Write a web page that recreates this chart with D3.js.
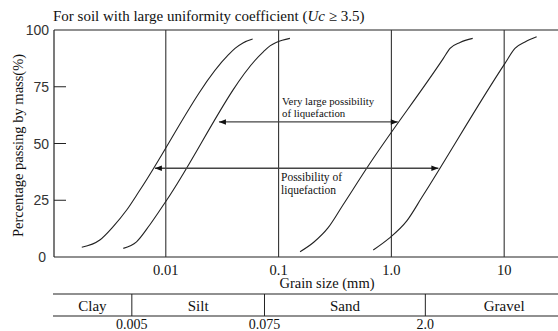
<!DOCTYPE html>
<html>
<head>
<meta charset="utf-8">
<script src="https://cdn.jsdelivr.net/npm/d3@7"></script>
<style>
  body { margin: 0; background: #fff; }
  svg { display: block; }
</style>
</head>
<body>
<div id="chart"></div>
<script>
// grain size (mm) vs percentage passing
const curveA = [[0.0018, 4.3], [0.0026, 7.5], [0.0034, 13.3], [0.0045, 20.7], [0.0059, 29.5],
  [0.0358, 89.0], [0.0411, 91.9], [0.0483, 94.3], [0.0589, 96.0]];
const curveB = [[0.0042, 3.8], [0.0055, 6.7], [0.0072, 14.1], [0.0102, 25.1],
  [0.0732, 90.4], [0.0839, 93.0], [0.0962, 94.6], [0.126, 96.3]];
const curveC = [[0.155, 2.3], [0.206, 6.6], [0.274, 12.8], [0.372, 22.9], [0.604, 39.1],
  [2.89, 87.5], [3.31, 91.9], [4.06, 94.5], [5.26, 96.3]];
const curveD = [[0.691, 3.1], [0.952, 8.2], [1.37, 15.9], [1.87, 26.4],
  [10.16, 85.3], [12.46, 91.9], [15.3, 94.7], [19.4, 97.0]];
const curves = [curveA, curveB, curveC, curveD];

const xTicks = [0.01, 0.1, 1, 10];
const xTickLabels = ['0.01', '0.1', '1.0', '10'];
const yTicks = [0, 25, 50, 75, 100];

// double arrows: [from size, to size, percent]
const arrowVeryLarge = [0.0296, 1.14, 59.5];
const arrowPossible = [0.0080, 2.61, 39.1];

const soilEdges = [0.001, 0.005, 0.075, 2.0, 50];
const soilNames = ['Clay', 'Silt', 'Sand', 'Gravel'];
const boundLabels = ['0.005', '0.075', '2.0'];

const width = 558, height = 331;
const serif = '"Liberation Serif", "DejaVu Serif", "Times New Roman", serif';

const svg = d3.select('#chart').append('svg')
  .attr('width', width)
  .attr('height', height)
  .attr('font-family', serif)
  .style('font-family', serif);

const x = d3.scaleLog().domain([0.001, 30]).range([53, 558]);
const y = d3.scaleLinear().domain([0, 100]).range([257, 30]);
const left = 54;

// arrow head
svg.append('defs').append('marker')
  .attr('id', 'head')
  .attr('viewBox', '0 -5 10 10')
  .attr('refX', 10)
  .attr('refY', 0)
  .attr('orient', 'auto-start-reverse')
  .attr('markerUnits', 'userSpaceOnUse')
  .attr('markerWidth', 10)
  .attr('markerHeight', 7)
  .append('path')
  .attr('d', 'M0,-4L10,0L0,4Z')
  .attr('fill', '#111');

// title
const title = svg.append('text')
  .attr('x', 53)
  .attr('y', 21)
  .attr('font-size', 15)
  .attr('fill', '#111');
title.append('tspan').text('For soil with large uniformity coefficient (');
title.append('tspan').attr('font-style', 'italic').text('Uc');
title.append('tspan').text(' \u2265 3.5)');

// frame
svg.append('g')
  .selectAll('line')
  .data([[left, y(100), width, y(100)], [left, y(0), width, y(0)], [left, y(0), left, y(100)]])
  .join('line')
  .attr('x1', d => d[0]).attr('y1', d => d[1])
  .attr('x2', d => d[2]).attr('y2', d => d[3])
  .attr('stroke', '#222').attr('stroke-width', 1.2);

// vertical grid lines
svg.append('g')
  .selectAll('line')
  .data(xTicks)
  .join('line')
  .attr('x1', d => x(d)).attr('x2', d => x(d))
  .attr('y1', y(0)).attr('y2', y(100))
  .attr('stroke', '#333')
  .attr('stroke-width', 1.1);

// y ticks
const yg = svg.append('g');
yg.selectAll('line')
  .data(yTicks.filter(d => d > 0 && d < 100))
  .join('line')
  .attr('x1', left).attr('x2', left + 12)
  .attr('y1', d => y(d)).attr('y2', d => y(d))
  .attr('stroke', '#222');
yg.selectAll('text')
  .data(yTicks)
  .join('text')
  .attr('x', d => d === 0 ? 46 : 49)
  .attr('y', d => y(d) + 5)
  .attr('text-anchor', 'end')
  .attr('font-size', 14)
  .attr('fill', '#333')
  .style('font-family', '"Liberation Sans", Arial, sans-serif')
  .text(d => d);

svg.append('text')
  .attr('transform', `translate(23,${(y(0) + y(100)) / 2 + 2}) rotate(-90)`)
  .attr('text-anchor', 'middle')
  .attr('font-size', 14.5)
  .attr('fill', '#111')
  .text('Percentage passing by mass(%)');

// x tick labels
svg.append('g')
  .selectAll('text')
  .data(xTicks)
  .join('text')
  .attr('x', d => x(d))
  .attr('y', 275)
  .attr('text-anchor', 'middle')
  .attr('font-size', 14.5)
  .attr('fill', '#111')
  .text((d, i) => xTickLabels[i]);

svg.append('text')
  .attr('x', 327)
  .attr('y', 288)
  .attr('text-anchor', 'middle')
  .attr('font-size', 14.5)
  .attr('fill', '#111')
  .text('Grain size (mm)');

// grading curves
const line = d3.line()
  .x(d => x(d[0]))
  .y(d => y(d[1]))
  .curve(d3.curveMonotoneX);

svg.append('g')
  .selectAll('path')
  .data(curves)
  .join('path')
  .attr('d', line)
  .attr('fill', 'none')
  .attr('stroke', '#222')
  .attr('stroke-width', 1.1);

// arrows
svg.append('g')
  .selectAll('line')
  .data([arrowVeryLarge, arrowPossible])
  .join('line')
  .attr('x1', d => x(d[0])).attr('x2', d => x(d[1]))
  .attr('y1', d => y(d[2])).attr('y2', d => y(d[2]))
  .attr('stroke', '#444')
  .attr('stroke-width', 1.3)
  .attr('marker-start', 'url(#head)')
  .attr('marker-end', 'url(#head)');

const note1 = svg.append('text').attr('font-size', 10.8).attr('fill', '#111');
note1.append('tspan').attr('x', 282).attr('y', 104.5).text('Very large possibility');
note1.append('tspan').attr('x', 282).attr('y', 117).text('of liquefaction');

const note2 = svg.append('text').attr('font-size', 11.5).attr('fill', '#111');
note2.append('tspan').attr('x', 281).attr('y', 180.5).text('Possibility of');
note2.append('tspan').attr('x', 281).attr('y', 193.5).text('liquefaction');

// soil classification strip
const strip = svg.append('g');
strip.selectAll('line.h')
  .data([294, 316])
  .join('line')
  .attr('class', 'h')
  .attr('x1', 53).attr('x2', width)
  .attr('y1', d => d).attr('y2', d => d)
  .attr('stroke', '#222').attr('stroke-width', 1.1);
strip.selectAll('line.v')
  .data(soilEdges.slice(1, -1))
  .join('line')
  .attr('class', 'v')
  .attr('x1', d => x(d)).attr('x2', d => x(d))
  .attr('y1', 294).attr('y2', 316)
  .attr('stroke', '#222');
strip.selectAll('text.name')
  .data(soilNames)
  .join('text')
  .attr('class', 'name')
  .attr('x', (d, i) => (x(soilEdges[i]) + x(soilEdges[i + 1])) / 2)
  .attr('y', 311)
  .attr('text-anchor', 'middle')
  .attr('font-size', 15)
  .attr('fill', '#111')
  .text(d => d);
strip.selectAll('text.bound')
  .data(boundLabels)
  .join('text')
  .attr('class', 'bound')
  .attr('x', (d, i) => x(soilEdges[i + 1]))
  .attr('y', 329)
  .attr('text-anchor', 'middle')
  .attr('font-size', 14)
  .attr('fill', '#111')
  .text(d => d);
</script>
</body>
</html>
